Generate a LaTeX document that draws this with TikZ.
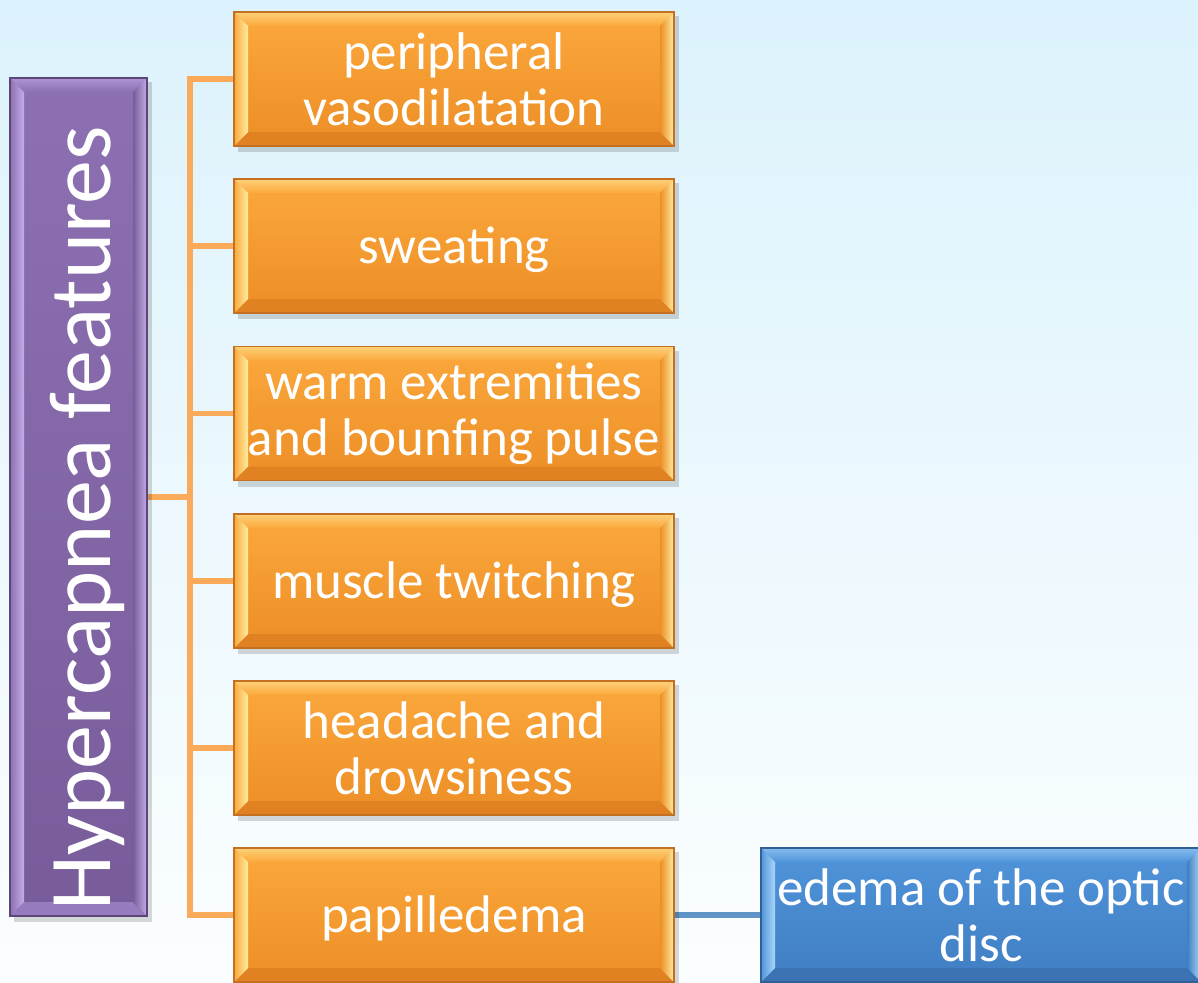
\documentclass[tikz,border=0pt]{standalone}
\usepackage{fontspec}
\setmainfont{Carlito}
\usetikzlibrary{calc}
\pgfdeclarelayer{bgl}
\pgfdeclarelayer{conn}
\pgfdeclarelayer{boxl}
\pgfsetlayers{bgl,conn,boxl,main}
\definecolor{orT}{RGB}{251,168,60}
\definecolor{orB}{RGB}{236,142,38}
\definecolor{orL}{RGB}{255,236,160}
\definecolor{orD}{RGB}{224,130,34}
\definecolor{orE}{RGB}{196,112,34}
\definecolor{puT}{RGB}{140,112,178}
\definecolor{puB}{RGB}{120,92,154}
\definecolor{puL}{RGB}{196,172,232}
\definecolor{puD}{RGB}{150,124,190}
\definecolor{puE}{RGB}{92,70,120}
\definecolor{blT}{RGB}{80,148,218}
\definecolor{blB}{RGB}{64,126,194}
\definecolor{blL}{RGB}{170,215,250}
\definecolor{blD}{RGB}{58,114,178}
\definecolor{blE}{RGB}{48,96,150}
\definecolor{conO}{RGB}{250,170,88}
\definecolor{conB}{RGB}{96,148,200}
\definecolor{bgT}{RGB}{220,242,252}
\definecolor{bgM}{RGB}{244,252,254}
\definecolor{bgB}{RGB}{251,254,255}
% #1 node, #2 top colour, #3 bottom colour, #4 light bevel, #5 bottom bevel, #6 border
\newcommand\bevbox[6]{%
\begin{pgfonlayer}{boxl}
 \fill[black,opacity=0.15] ($(#1.north west)+(4,4)$) rectangle ($(#1.south east)+(5,6)$);
 \shade[top color=#2,bottom color=#3] (#1.north west) rectangle (#1.south east);
 \shade[top color=#4!60!#2,bottom color=#2] (#1.north west) -- (#1.north east) -- ($(#1.north east)+(-14,14)$) -- ($(#1.north west)+(14,14)$) -- cycle;
 \fill[#5] (#1.south west) -- (#1.south east) -- ($(#1.south east)+(-14,-14)$) -- ($(#1.south west)+(14,-14)$) -- cycle;
 \shade[left color=#2,right color=#4] (#1.north west) -- ($(#1.north west)+(14,14)$) -- ($(#1.south west)+(14,-14)$) -- (#1.south west) -- cycle;
 \shade[left color=#3,right color=#4] (#1.north east) -- ($(#1.north east)+(-14,14)$) -- ($(#1.south east)+(-14,-14)$) -- (#1.south east) -- cycle;
 \draw[#6,line width=1.2] (#1.north west) rectangle (#1.south east);
\end{pgfonlayer}}
\tikzset{
 obox/.style={minimum width=440, minimum height=134, inner sep=0, outer sep=0,
   text=white, align=center, font=\fontsize{53}{56}\selectfont},
 oneline/.style={text height=46, text depth=12},
 pbox/.style={minimum width=137, minimum height=838, inner sep=0, outer sep=0},
 ptext/.style={rotate=90, anchor=base, inner sep=0, text=white, font=\fontsize{88}{90}\selectfont},
 oconn/.style={draw=conO, line width=5.5},
 bconn/.style={draw=conB, line width=6}
}
\begin{document}
\begin{tikzpicture}[x=1pt,y=-1pt]
\useasboundingbox (0,0) rectangle (1198,982);
\clip (0,0) rectangle (1198,982);
\begin{pgfonlayer}{bgl}
 \shade[top color=bgT, middle color=bgM, bottom color=bgB] (0,0) rectangle (1198,982);
\end{pgfonlayer}
\node[pbox] (hyp) at (78.5,497) {};
\node[ptext] (hypt) at (110,518) {Hypercapnea features};
\node[obox] (b1) at (454,79) {peripheral\\vasodilatation};
\node[obox,oneline] (b2) at (454,246) {sweating};
\node[obox] (b3) at (454,413.5) {warm extremities\\and bounfing pulse};
\node[obox,oneline] (b4) at (454,581) {muscle twitching};
\node[obox] (b5) at (454,748) {headache and\\drowsiness};
\node[obox,oneline] (b6) at (454,915) {papilledema};
\node[obox] (b7) at (981,915) {edema of the optic\\disc};
\bevbox{hyp}{puT}{puB}{puL}{puD}{puE}
\foreach \n in {b1,b2,b3,b4,b5,b6}{\bevbox{\n}{orT}{orB}{orL}{orD}{orE}}
\bevbox{b7}{blT}{blB}{blL}{blD}{blE}
\coordinate (jx) at (190,497);
\begin{pgfonlayer}{conn}
 \draw[oconn] (hyp.east) -- (jx);
 \foreach \n in {b1,b2,b3,b4,b5,b6}{\draw[oconn] (jx) |- (\n.west);}
 \draw[bconn] (b6.east) -- (b7.west);
\end{pgfonlayer}
\end{tikzpicture}
\end{document}
